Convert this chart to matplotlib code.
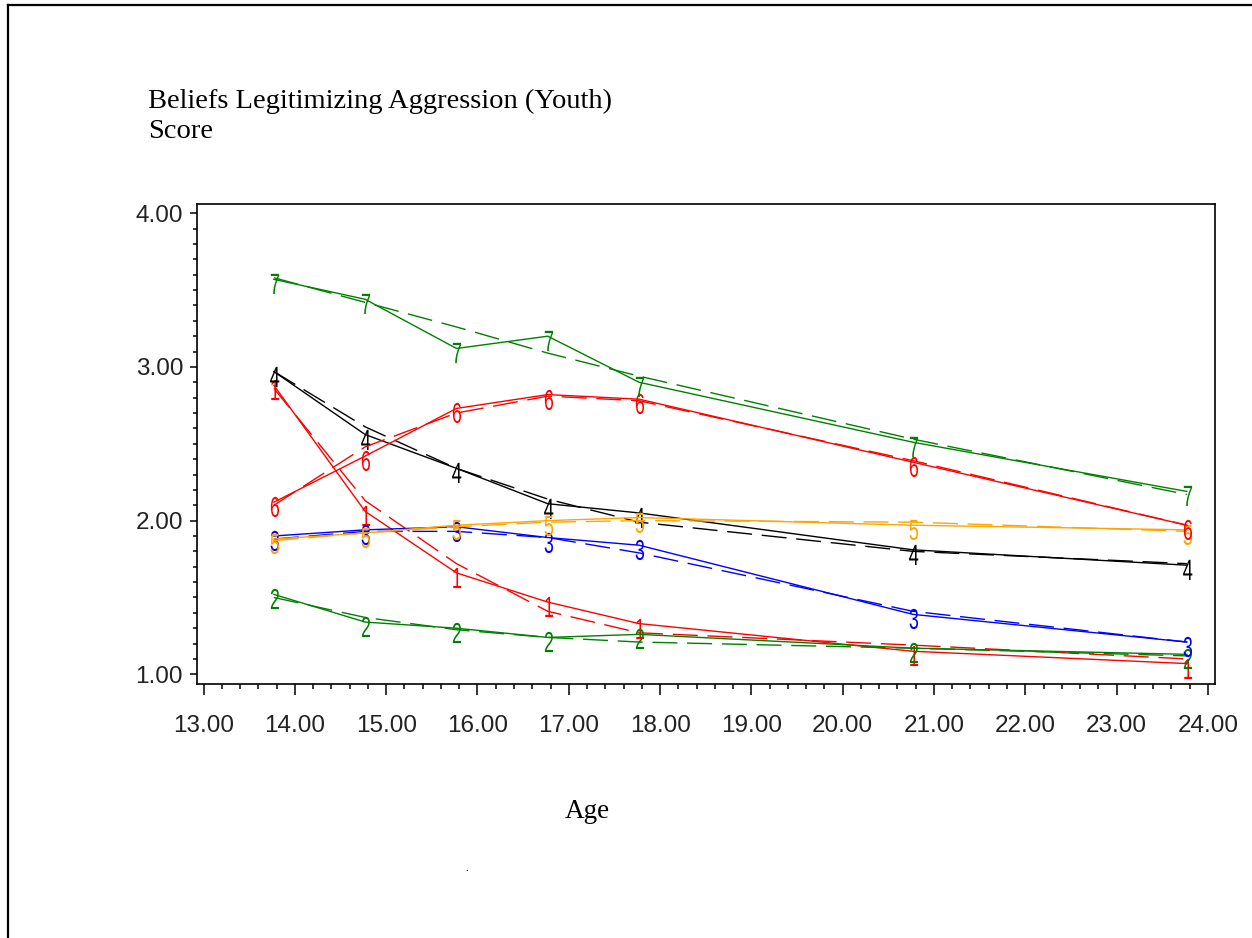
import numpy as np
import matplotlib.pyplot as plt
from matplotlib.ticker import MultipleLocator, FormatStrFormatter
from matplotlib.lines import Line2D
from matplotlib.path import Path
from matplotlib.textpath import TextPath
from matplotlib.font_manager import FontProperties

# ages where the groups were measured
age = [13.77, 14.77, 15.77, 16.77, 17.77, 20.77, 23.77]

groups = ['1', '2', '3', '4', '5', '6', '7']
colors = ['red', 'green', 'blue', 'black', 'orange', 'red', 'green']

# observed scores (solid lines)
obs_1 = [2.88, 2.06, 1.66, 1.47, 1.33, 1.15, 1.07]
obs_2 = [1.52, 1.34, 1.30, 1.24, 1.26, 1.17, 1.13]
obs_3 = [1.90, 1.94, 1.96, 1.89, 1.84, 1.39, 1.21]
obs_4 = [2.97, 2.56, 2.34, 2.11, 2.05, 1.81, 1.71]
obs_5 = [1.88, 1.92, 1.97, 2.00, 2.02, 1.97, 1.94]
obs_6 = [2.12, 2.42, 2.73, 2.82, 2.79, 2.38, 1.97]
obs_7 = [3.57, 3.44, 3.12, 3.20, 2.90, 2.51, 2.19]

# fitted scores (dashed lines)
fit_1 = [2.86, 2.13, 1.72, 1.41, 1.27, 1.19, 1.10]
fit_2 = [1.50, 1.37, 1.29, 1.24, 1.21, 1.17, 1.12]
fit_3 = [1.88, 1.93, 1.93, 1.89, 1.79, 1.41, 1.21]
fit_4 = [2.97, 2.61, 2.34, 2.14, 1.99, 1.80, 1.72]
fit_5 = [1.87, 1.92, 1.96, 1.99, 2.00, 1.99, 1.93]
fit_6 = [2.10, 2.48, 2.70, 2.81, 2.78, 2.39, 1.97]
fit_7 = [3.58, 3.42, 3.26, 3.09, 2.94, 2.53, 2.17]

observed = [obs_1, obs_2, obs_3, obs_4, obs_5, obs_6, obs_7]
fitted = [fit_1, fit_2, fit_3, fit_4, fit_5, fit_6, fit_7]


def digit_marker(ch):
    # narrow digit glyph, point sits about a quarter down from its top
    tp = TextPath((0, 0), ch, size=1, prop=FontProperties(family='Liberation Sans'))
    v = tp.vertices.copy()
    x0, x1 = v[:, 0].min(), v[:, 0].max()
    y0, y1 = v[:, 1].min(), v[:, 1].max()
    h = y1 - y0
    v[:, 0] = (v[:, 0] - (x0 + x1) / 2) * 0.62
    v[:, 1] = v[:, 1] - y1 + 0.28 * h
    return Path(v, tp.codes)


W, H = 1252, 938
fig = plt.figure(figsize=(W / 100, H / 100), dpi=100)
ax = fig.add_axes([197 / W, 1 - 684 / H, (1215 - 197) / W, (684 - 204) / H])

tick_font = ['Liberation Sans', 'DejaVu Sans']
serif = ['Liberation Serif', 'DejaVu Serif']

for g, c, ob, ft in zip(groups, colors, observed, fitted):
    ax.plot(age, ob, color=c, lw=1.0)
    ax.plot(age, ft, color=c, lw=1.0, ls=(0, (18, 7)))
    ax.plot(age, ob, ls='none', marker=digit_marker(g), markersize=21,
            markerfacecolor=c, markeredgewidth=0)

ax.set_xlim(12.928, 24.078)
ax.set_ylim(0.937, 4.06)

ax.xaxis.set_major_locator(MultipleLocator(1))
ax.xaxis.set_minor_locator(MultipleLocator(0.2))
ax.yaxis.set_major_locator(MultipleLocator(1))
ax.yaxis.set_minor_locator(MultipleLocator(0.1))
ax.xaxis.set_major_formatter(FormatStrFormatter('%.2f'))
ax.yaxis.set_major_formatter(FormatStrFormatter('%.2f'))

ax.tick_params(axis='x', which='major', length=8, width=1.1, pad=14, labelsize=17.5)
ax.tick_params(axis='x', which='minor', length=3.8, width=1.1)
ax.tick_params(axis='y', which='major', length=5, width=1.1, pad=5, labelsize=17.5)
ax.tick_params(axis='y', which='minor', length=3, width=1.1)
for lab in ax.get_xticklabels() + ax.get_yticklabels():
    lab.set_family(tick_font)
    lab.set_color('#222222')

for sp in ax.spines.values():
    sp.set_linewidth(1.2)

fig.text(148 / W, 1 - 101 / H, 'Beliefs Legitimizing Aggression (Youth)',
         family=serif, fontsize=20.5, va='center', ha='left')
fig.text(148 / W, 1 - 131 / H, 'Score', family=serif, fontsize=20.5,
         va='center', ha='left')
fig.text(587 / W, 1 - 811 / H, 'Age', family=serif, fontsize=19.5,
         va='center', ha='center')
fig.text(467 / W, 1 - 868 / H, '.', family=serif, fontsize=8,
         va='center', ha='center')

# outer page border (top and left edges)
fig.add_artist(Line2D([8 / W, 8 / W], [0, 1 - 5 / H], color='black', lw=1.6,
                      transform=fig.transFigure))
fig.add_artist(Line2D([8 / W, 1], [1 - 5 / H, 1 - 5 / H], color='black', lw=1.6,
                      transform=fig.transFigure))

fig.savefig('out.png', dpi=100)
